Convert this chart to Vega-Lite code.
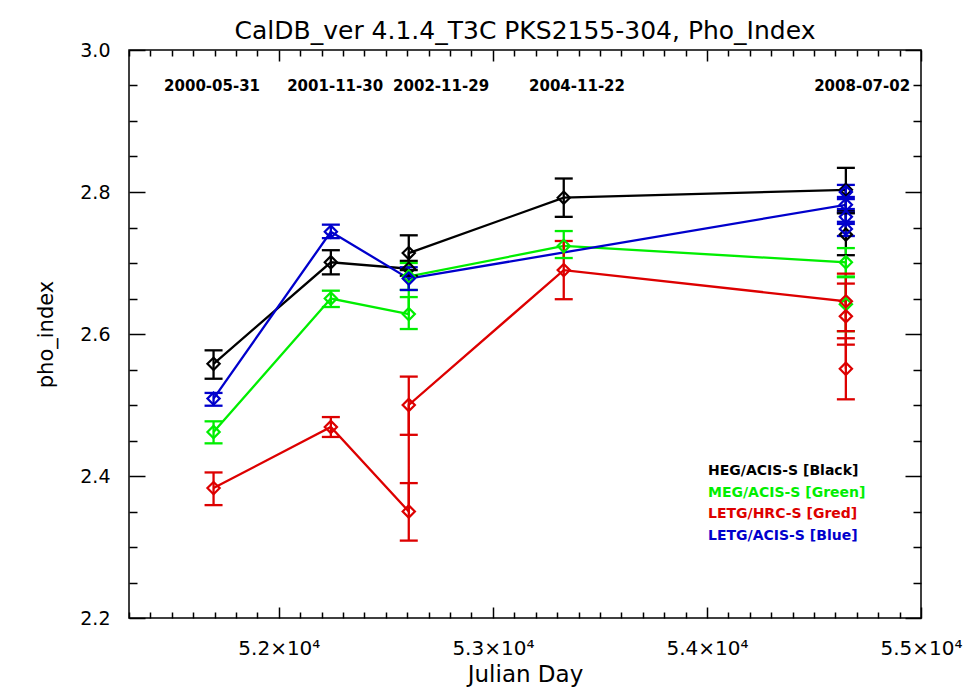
{
  "$schema": "https://vega.github.io/schema/vega-lite/v6.json",
  "width": 792,
  "height": 568,
  "autosize": {"type": "none"},
  "padding": {"left": 129, "top": 50, "right": 49, "bottom": 73},
  "background": "white",
  "title": {
    "text": "CalDB_ver 4.1.4_T3C PKS2155-304, Pho_Index",
    "font": "DejaVu Sans",
    "fontSize": 25,
    "fontWeight": "normal",
    "color": "black",
    "anchor": "middle",
    "baseline": "alphabetic",
    "offset": -23
  },
  "config": {
    "view": {"stroke": "black", "strokeWidth": 1.5},
    "axis": {
      "domain": false,
      "grid": false,
      "labelFont": "DejaVu Sans",
      "labelColor": "black",
      "titleFont": "DejaVu Sans",
      "titleColor": "black",
      "titleFontWeight": "normal",
      "tickColor": "black",
      "tickWidth": 1.5,
      "labelOverlap": false,
      "labelFlush": false,
      "labelBound": false
    }
  },
  "datasets": {
    "obs": [
      {"inst": "HEG/ACIS-S [Black]", "ord": 1, "mjd": 51695, "v": 2.558, "lo": 2.537, "hi": 2.577},
      {"inst": "HEG/ACIS-S [Black]", "ord": 2, "mjd": 52243, "v": 2.701, "lo": 2.684, "hi": 2.718},
      {"inst": "HEG/ACIS-S [Black]", "ord": 3, "mjd": 52607, "v": 2.692, "lo": 2.682, "hi": 2.703},
      {"inst": "HEG/ACIS-S [Black]", "ord": 4, "mjd": 52607, "v": 2.714, "lo": 2.690, "hi": 2.739},
      {"inst": "HEG/ACIS-S [Black]", "ord": 5, "mjd": 53331, "v": 2.792, "lo": 2.765, "hi": 2.819},
      {"inst": "HEG/ACIS-S [Black]", "ord": 6, "mjd": 54649, "v": 2.803, "lo": 2.773, "hi": 2.834},
      {"inst": "HEG/ACIS-S [Black]", "ord": 7, "mjd": 54649, "v": 2.740, "lo": 2.711, "hi": 2.770},
      {"inst": "MEG/ACIS-S [Green]", "ord": 1, "mjd": 51695, "v": 2.462, "lo": 2.446, "hi": 2.477},
      {"inst": "MEG/ACIS-S [Green]", "ord": 2, "mjd": 52243, "v": 2.650, "lo": 2.638, "hi": 2.661},
      {"inst": "MEG/ACIS-S [Green]", "ord": 3, "mjd": 52607, "v": 2.628, "lo": 2.607, "hi": 2.652},
      {"inst": "MEG/ACIS-S [Green]", "ord": 4, "mjd": 52607, "v": 2.681, "lo": 2.662, "hi": 2.700},
      {"inst": "MEG/ACIS-S [Green]", "ord": 5, "mjd": 53331, "v": 2.724, "lo": 2.707, "hi": 2.745},
      {"inst": "MEG/ACIS-S [Green]", "ord": 6, "mjd": 54649, "v": 2.701, "lo": 2.681, "hi": 2.721},
      {"inst": "MEG/ACIS-S [Green]", "ord": 7, "mjd": 54649, "v": 2.642, "lo": 2.604, "hi": 2.680},
      {"inst": "LETG/HRC-S [Gred]", "ord": 1, "mjd": 51695, "v": 2.383, "lo": 2.359, "hi": 2.405},
      {"inst": "LETG/HRC-S [Gred]", "ord": 2, "mjd": 52243, "v": 2.469, "lo": 2.455, "hi": 2.483},
      {"inst": "LETG/HRC-S [Gred]", "ord": 3, "mjd": 52607, "v": 2.350, "lo": 2.309, "hi": 2.390},
      {"inst": "LETG/HRC-S [Gred]", "ord": 4, "mjd": 52607, "v": 2.500, "lo": 2.458, "hi": 2.540},
      {"inst": "LETG/HRC-S [Gred]", "ord": 5, "mjd": 53331, "v": 2.690, "lo": 2.649, "hi": 2.731},
      {"inst": "LETG/HRC-S [Gred]", "ord": 6, "mjd": 54649, "v": 2.646, "lo": 2.604, "hi": 2.685},
      {"inst": "LETG/HRC-S [Gred]", "ord": 7, "mjd": 54649, "v": 2.625, "lo": 2.585, "hi": 2.671},
      {"inst": "LETG/HRC-S [Gred]", "ord": 8, "mjd": 54649, "v": 2.551, "lo": 2.508, "hi": 2.594},
      {"inst": "LETG/ACIS-S [Blue]", "ord": 1, "mjd": 51695, "v": 2.509, "lo": 2.499, "hi": 2.517},
      {"inst": "LETG/ACIS-S [Blue]", "ord": 2, "mjd": 52243, "v": 2.744, "lo": 2.735, "hi": 2.754},
      {"inst": "LETG/ACIS-S [Blue]", "ord": 3, "mjd": 52607, "v": 2.678, "lo": 2.662, "hi": 2.694},
      {"inst": "LETG/ACIS-S [Blue]", "ord": 4, "mjd": 54649, "v": 2.782, "lo": 2.771, "hi": 2.793},
      {"inst": "LETG/ACIS-S [Blue]", "ord": 5, "mjd": 54649, "v": 2.800, "lo": 2.790, "hi": 2.810},
      {"inst": "LETG/ACIS-S [Blue]", "ord": 6, "mjd": 54649, "v": 2.765, "lo": 2.755, "hi": 2.776},
      {"inst": "LETG/ACIS-S [Blue]", "ord": 7, "mjd": 54649, "v": 2.748, "lo": 2.738, "hi": 2.758}
    ],
    "dates": [
      {"date": "2000-05-31", "pos": 51688},
      {"date": "2001-11-30", "pos": 52263},
      {"date": "2002-11-29", "pos": 52758},
      {"date": "2004-11-22", "pos": 53393},
      {"date": "2008-07-02", "pos": 54725}
    ]
  },
  "layer": [
    {
      "data": {"name": "obs"},
      "encoding": {
        "x": {
          "field": "mjd",
          "type": "quantitative",
          "scale": {"domain": [51300, 55000], "nice": false, "zero": false},
          "axis": {
            "orient": "bottom",
            "title": "Julian Day",
            "titleFontSize": 23,
            "titlePadding": 0,
            "labelFontSize": 20,
            "labelPadding": 31,
            "values": [51300,51400,51500,51600,51700,51800,51900,52000,52100,52200,52300,52400,52500,52600,52700,52800,52900,53000,53100,53200,53300,53400,53500,53600,53700,53800,53900,54000,54100,54200,54300,54400,54500,54600,54700,54800,54900,55000],
            "tickSize": {"condition": {"test": "datum.value % 1000 === 0", "value": -11}, "value": -6},
            "labelExpr": "datum.value % 1000 === 0 ? format(datum.value / 10000, '.1f') + '×10⁴' : ''"
          }
        },
        "color": {
          "field": "inst",
          "type": "nominal",
          "scale": {
            "domain": ["HEG/ACIS-S [Black]", "MEG/ACIS-S [Green]", "LETG/HRC-S [Gred]", "LETG/ACIS-S [Blue]"],
            "range": ["#000000", "#00ee00", "#dd0000", "#0000cc"]
          },
          "legend": {
            "orient": "none",
            "legendX": 565,
            "legendY": 414,
            "title": null,
            "padding": 0,
            "symbolType": "circle",
            "symbolSize": 0,
            "symbolStrokeWidth": 0,
            "symbolOpacity": 0,
            "labelOffset": 0,
            "labelFont": "DejaVu Sans",
            "labelFontWeight": "bold",
            "labelFontSize": 14,
            "rowPadding": 7.5,
            "encode": {"labels": {"update": {"fill": {"scale": "color", "field": "value"}}}}
          }
        }
      },
      "layer": [
        {
          "mark": {"type": "line", "strokeWidth": 2.3},
          "encoding": {
            "y": {
              "field": "v",
              "type": "quantitative",
              "scale": {"domain": [2.2, 3.0], "nice": false, "zero": false},
              "axis": {
                "orient": "left",
                "title": "pho_index",
                "titleFontSize": 21,
                "titlePadding": 23,
                "labelFontSize": 19,
                "labelPadding": 35,
                "values": [2.2,2.25,2.3,2.35,2.4,2.45,2.5,2.55,2.6,2.65,2.7,2.75,2.8,2.85,2.9,2.95,3.0],
                "tickSize": {"condition": {"test": "abs(datum.value * 5 - round(datum.value * 5)) < 0.001", "value": -16}, "value": -8},
                "labelExpr": "abs(datum.value * 5 - round(datum.value * 5)) < 0.001 ? format(datum.value, '.1f') : ''"
              }
            },
            "order": {"field": "ord", "type": "quantitative"}
          }
        },
        {
          "mark": {"type": "rule", "strokeWidth": 2.3},
          "encoding": {
            "y": {
              "field": "lo",
              "type": "quantitative",
              "axis": {
                "orient": "left",
                "title": "pho_index",
                "titleFontSize": 21,
                "titlePadding": 23,
                "labelFontSize": 19,
                "labelPadding": 35,
                "values": [2.2,2.25,2.3,2.35,2.4,2.45,2.5,2.55,2.6,2.65,2.7,2.75,2.8,2.85,2.9,2.95,3.0],
                "tickSize": {"condition": {"test": "abs(datum.value * 5 - round(datum.value * 5)) < 0.001", "value": -16}, "value": -8},
                "labelExpr": "abs(datum.value * 5 - round(datum.value * 5)) < 0.001 ? format(datum.value, '.1f') : ''"
              }
            },
            "y2": {"field": "hi"}
          }
        },
        {
          "mark": {"type": "tick", "orient": "horizontal", "size": 18, "thickness": 2.3, "opacity": 1},
          "encoding": {
            "y": {
              "field": "lo",
              "type": "quantitative",
              "axis": {
                "orient": "left",
                "title": "pho_index",
                "titleFontSize": 21,
                "titlePadding": 23,
                "labelFontSize": 19,
                "labelPadding": 35,
                "values": [2.2,2.25,2.3,2.35,2.4,2.45,2.5,2.55,2.6,2.65,2.7,2.75,2.8,2.85,2.9,2.95,3.0],
                "tickSize": {"condition": {"test": "abs(datum.value * 5 - round(datum.value * 5)) < 0.001", "value": -16}, "value": -8},
                "labelExpr": "abs(datum.value * 5 - round(datum.value * 5)) < 0.001 ? format(datum.value, '.1f') : ''"
              }
            }
          }
        },
        {
          "mark": {"type": "tick", "orient": "horizontal", "size": 18, "thickness": 2.3, "opacity": 1},
          "encoding": {
            "y": {
              "field": "hi",
              "type": "quantitative",
              "axis": {
                "orient": "left",
                "title": "pho_index",
                "titleFontSize": 21,
                "titlePadding": 23,
                "labelFontSize": 19,
                "labelPadding": 35,
                "values": [2.2,2.25,2.3,2.35,2.4,2.45,2.5,2.55,2.6,2.65,2.7,2.75,2.8,2.85,2.9,2.95,3.0],
                "tickSize": {"condition": {"test": "abs(datum.value * 5 - round(datum.value * 5)) < 0.001", "value": -16}, "value": -8},
                "labelExpr": "abs(datum.value * 5 - round(datum.value * 5)) < 0.001 ? format(datum.value, '.1f') : ''"
              }
            }
          }
        },
        {
          "mark": {"type": "point", "shape": "diamond", "filled": false, "size": 150, "strokeWidth": 2.2, "opacity": 1},
          "encoding": {
            "y": {
              "field": "v",
              "type": "quantitative",
              "axis": {
                "orient": "left",
                "title": "pho_index",
                "titleFontSize": 21,
                "titlePadding": 23,
                "labelFontSize": 19,
                "labelPadding": 35,
                "values": [2.2,2.25,2.3,2.35,2.4,2.45,2.5,2.55,2.6,2.65,2.7,2.75,2.8,2.85,2.9,2.95,3.0],
                "tickSize": {"condition": {"test": "abs(datum.value * 5 - round(datum.value * 5)) < 0.001", "value": -16}, "value": -8},
                "labelExpr": "abs(datum.value * 5 - round(datum.value * 5)) < 0.001 ? format(datum.value, '.1f') : ''"
              }
            }
          }
        }
      ]
    },
    {
      "data": {"name": "dates"},
      "mark": {"type": "text", "font": "DejaVu Sans", "fontSize": 15, "fontWeight": "bold", "color": "black", "baseline": "middle", "align": "center"},
      "encoding": {
        "x": {
          "field": "pos",
          "type": "quantitative",
          "axis": {
            "orient": "top",
            "title": null,
            "labels": false,
            "values": [51300,51400,51500,51600,51700,51800,51900,52000,52100,52200,52300,52400,52500,52600,52700,52800,52900,53000,53100,53200,53300,53400,53500,53600,53700,53800,53900,54000,54100,54200,54300,54400,54500,54600,54700,54800,54900,55000],
            "tickSize": {"condition": {"test": "datum.value % 1000 === 0", "value": -11}, "value": -6}
          }
        },
        "y": {
          "datum": 2.949,
          "type": "quantitative",
          "axis": {
            "orient": "right",
            "title": null,
            "labels": false,
            "values": [2.2,2.25,2.3,2.35,2.4,2.45,2.5,2.55,2.6,2.65,2.7,2.75,2.8,2.85,2.9,2.95,3.0],
            "tickSize": {"condition": {"test": "abs(datum.value * 5 - round(datum.value * 5)) < 0.001", "value": -16}, "value": -8}
          }
        },
        "text": {"field": "date", "type": "nominal"}
      }
    }
  ],
  "resolve": {"axis": {"x": "independent", "y": "independent"}}
}
